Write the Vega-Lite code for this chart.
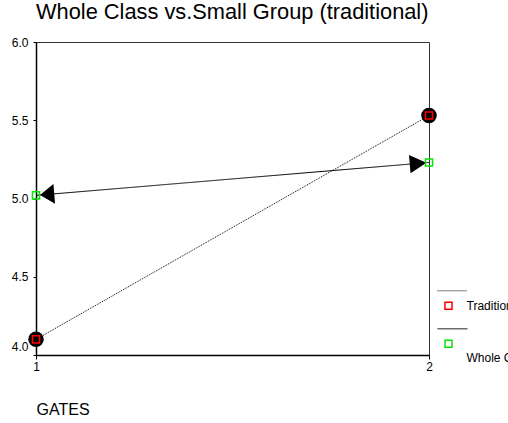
{
  "$schema": "https://vega.github.io/schema/vega-lite/v6.json",
  "width": 393,
  "height": 313,
  "autosize": {"type": "none"},
  "padding": {"left": 36, "top": 42, "right": 79, "bottom": 68},
  "background": "white",
  "title": {
    "text": "Whole Class vs.Small Group (traditional)",
    "anchor": "start",
    "frame": "group",
    "font": "Liberation Sans",
    "fontSize": 21.8,
    "fontWeight": "normal",
    "color": "black",
    "offset": 12
  },
  "config": {
    "view": {"stroke": "#333", "strokeWidth": 1},
    "font": "Liberation Sans",
    "axis": {
      "grid": false,
      "domainColor": "black",
      "domainWidth": 1.5,
      "tickColor": "black",
      "labelColor": "black",
      "labelFont": "Liberation Sans",
      "labelFontSize": 12
    }
  },
  "data": {
    "values": [
      {"gates": 1, "mean": 4.10, "group": "Traditional", "line": "Traditional"},
      {"gates": 2, "mean": 5.53, "group": "Traditional", "line": "Traditional"},
      {"gates": 1, "mean": 5.02, "group": "Whole Class", "line": "Whole Class"},
      {"gates": 2, "mean": 5.23, "group": "Whole Class", "line": "Whole Class"}
    ]
  },
  "encoding": {
    "x": {
      "field": "gates",
      "type": "quantitative",
      "scale": {"domain": [1, 2], "nice": false, "zero": false},
      "axis": {
        "values": [1, 2],
        "format": "d",
        "labelFlush": false,
        "tickSize": 4,
        "labelPadding": 2,
        "title": "GATES",
        "titleAnchor": "start",
        "titleAlign": "left",
        "titleX": 0,
        "titleY": 59,
        "titleBaseline": "alphabetic",
        "titleFont": "Liberation Sans",
        "titleFontSize": 16,
        "titleFontWeight": "normal",
        "titleColor": "black"
      }
    },
    "y": {
      "field": "mean",
      "type": "quantitative",
      "scale": {"domain": [4, 6], "nice": false, "zero": false},
      "axis": {
        "values": [4, 4.5, 5, 5.5, 6],
        "format": ".1f",
        "title": null,
        "tickSize": 3,
        "labelPadding": 5,
        "labelBaseline": {"condition": {"test": "datum.value <= 4", "value": "bottom"}, "value": "middle"},
        "labelOffset": {"condition": {"test": "datum.value <= 4", "value": -2}, "value": 0}
      }
    }
  },
  "layer": [
    {
      "mark": {"type": "line", "color": "black", "strokeWidth": 1},
      "encoding": {
        "strokeDash": {
          "field": "line",
          "type": "nominal",
          "scale": {"range": [[1, 1], [1, 0]]},
          "legend": {
            "title": null,
            "orient": "none",
            "legendX": 401,
            "legendY": 230,
            "symbolType": "stroke",
            "symbolSize": 900,
            "symbolStrokeWidth": 1,
            "symbolStrokeColor": "black",
            "labelExpr": "''",
            "clipHeight": 37.6,
            "rowPadding": 0
          }
        }
      }
    },
    {
      "transform": [{"filter": "datum.group == 'Traditional'"}],
      "mark": {"type": "point", "shape": "circle", "filled": true, "color": "black", "size": 240, "opacity": 1}
    },
    {
      "transform": [{"filter": "datum.group == 'Whole Class'"}],
      "mark": {"type": "point", "filled": true, "color": "black", "size": 400, "opacity": 1, "angle": 355.24},
      "encoding": {
        "shape": {
          "condition": {"test": "datum.gates == 1", "value": "M 0.4 0 L 1.83 -1 L 1.83 1 Z"},
          "value": "M -0.26 0 L -1.93 -0.92 L -1.93 0.92 Z"
        }
      }
    },
    {
      "mark": {"type": "point", "shape": "square", "filled": false, "size": 50, "strokeWidth": 1.5, "opacity": 1},
      "encoding": {
        "color": {
          "field": "group",
          "type": "nominal",
          "scale": {"range": ["#ff0000", "#00e600"]},
          "legend": {
            "title": null,
            "orient": "none",
            "legendX": 406.5,
            "legendY": 245,
            "symbolType": "square",
            "symbolSize": 50,
            "symbolStrokeWidth": 1.5,
            "labelFont": "Liberation Sans",
            "labelFontSize": 12,
            "labelColor": "black",
            "labelOffset": 12,
            "labelBaseline": "middle",
            "labelExpr": "datum.label == 'Whole Class' ? ['', '', datum.label] : datum.label",
            "clipHeight": 37.4,
            "rowPadding": 0
          }
        }
      }
    }
  ]
}
